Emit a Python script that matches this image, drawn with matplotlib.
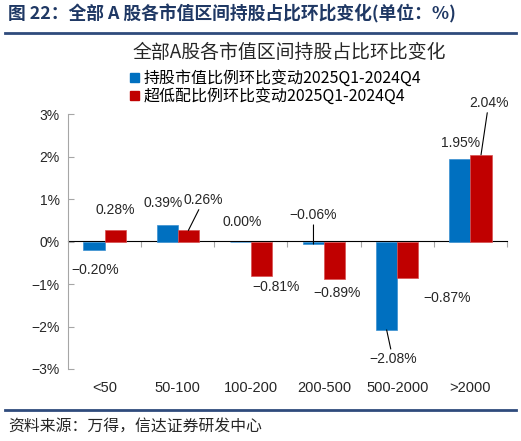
import matplotlib.pyplot as plt
import numpy as np
from matplotlib.lines import Line2D
from matplotlib.patches import Patch
from matplotlib.ticker import PercentFormatter

plt.rcParams['font.family'] = ['Noto Sans CJK SC', 'DejaVu Sans']

# data
categories = ['<50', '50-100', '100-200', '200-500', '500-2000', '>2000']
hold_chg = [-0.20, 0.39, 0.00, -0.06, -2.08, 1.95]
under_chg = [0.28, 0.26, -0.81, -0.89, -0.87, 2.04]
series_names = ['持股市值比例环比变动2025Q1-2024Q4', '超低配比例环比变动2025Q1-2024Q4']

# label offsets from bar end (dx, dy, leader line?)
hold_lbl = [(0.01, -0.47, False), (-0.06, 0.52, False), (0.02, 0.46, False),
            (0.0, 0.68, True), (0.085, -0.68, True), (0.015, 0.37, False)]
under_lbl = [(0.0, 0.46, False), (0.21, 0.72, True), (0.195, -0.26, False),
             (0.03, -0.32, False), (0.535, -0.46, False), (0.105, 1.22, True)]

blue = '#0070C0'
red = '#C00000'
navy = '#1F3864'
grey = '#A6A6A6'
txt = '#262626'

fig = plt.figure(figsize=(5.21, 4.41), dpi=100)
ax = fig.add_axes([68/521, 1-369/441, (507-68)/521, (369-114)/441])

x = np.arange(len(categories))
w = 0.29
ax.bar(x - w/2, hold_chg, w, color=blue, edgecolor='#3a8fd0', linewidth=0.5)
ax.bar(x + w/2, under_chg, w, color=red, edgecolor='#d85050', linewidth=0.5)

ax.set_xlim(-0.5, 5.5)
ax.set_ylim(-3, 3)
ax.set_yticks(np.arange(-3, 4, 1))
ax.yaxis.set_major_formatter(PercentFormatter(xmax=100, decimals=0))
ax.tick_params(axis='y', direction='in', length=4, color=grey, labelsize=10,
               labelcolor=txt, pad=6)
for lbl in ax.get_yticklabels():
    lbl.set_fontfamily(['Liberation Sans'])

for s in ['top', 'right', 'bottom']:
    ax.spines[s].set_visible(False)
ax.spines['left'].set_color(grey)

ax.set_xticks(x)
ax.set_xticklabels(categories, fontsize=10.5, color=txt, fontfamily=['Liberation Sans'])
ax.tick_params(axis='x', length=0, pad=9)

# zero line with boundary ticks
sec = ax.secondary_xaxis(0.5)
sec.set_xticks(np.arange(0.5, 6, 1))
sec.set_xticklabels([])
sec.tick_params(direction='in', length=4, color=grey)
sec.spines['bottom'].set_color(grey)

def fmt(v):
    return f'{v:.2f}%'.replace('-', '−')

for vals, lbls, off in [(hold_chg, hold_lbl, -w/2), (under_chg, under_lbl, w/2)]:
    for i, (v, (dx, dy, lead)) in enumerate(zip(vals, lbls)):
        xb = i + off
        props = dict(arrowstyle='-', color='black', lw=0.8, shrinkA=0, shrinkB=0) if lead else None
        ax.annotate(fmt(v), xy=(xb, v), xytext=(xb + dx, v + dy),
                    ha='center', va='center', fontsize=10, color=txt,
                    fontfamily=['Liberation Sans'], arrowprops=props,
                    annotation_clip=False)

# chart title and legend
fig.text(289/521, 1-53/441, '全部A股各市值区间持股占比环比变化', ha='center', va='center',
         fontsize=13.6, color=txt)
handles = [Patch(color=blue), Patch(color=red)]
fig.legend(handles, series_names, loc='upper left', bbox_to_anchor=(130/521, 1-70/441),
           frameon=False, fontsize=11.5, handlelength=0.55, handleheight=0.55,
           handletextpad=0.3, labelspacing=0.08, borderpad=0, borderaxespad=0)

# header / footer
fig.text(8/521, 1-14/441, '图 22：全部 A 股各市值区间持股占比环比变化(单位：%)', ha='left',
         va='center', fontsize=12.8, fontweight='bold', color=navy)
fig.add_artist(Line2D([5/521, 516/521], [1-33/441]*2, color='#2F4B7C', lw=2))
fig.add_artist(Line2D([5/521, 516/521], [1-410/441]*2, color='#2F4B7C', lw=2))
fig.text(8/521, 1-426/441, '资料来源：万得，信达证券研发中心', ha='left', va='center',
         fontsize=11.4, color=txt, style='italic')

plt.savefig('out.png', dpi=100)
